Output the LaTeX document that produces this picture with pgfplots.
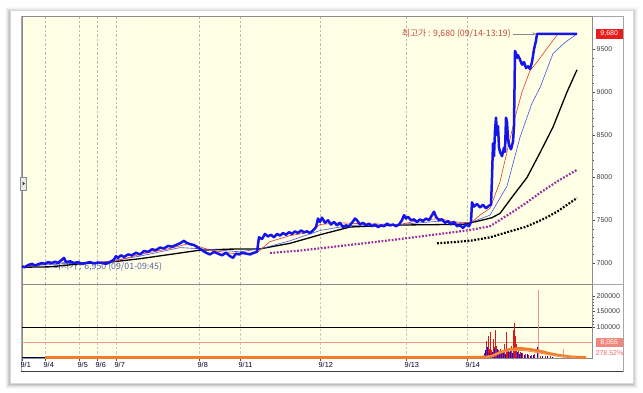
\documentclass[border=0pt]{standalone}
\usepackage{fontspec}
\setmainfont{Liberation Sans}
\newfontfamily\kr{Noto Sans CJK KR}
\usepackage{pgfplots}
\pgfplotsset{compat=1.18}
\usetikzlibrary{arrows.meta}
\definecolor{bgy}{RGB}{255,255,230}
\definecolor{pblue}{RGB}{20,20,235}
\definecolor{mared}{RGB}{225,60,40}
\definecolor{mablue}{RGB}{70,80,230}
\definecolor{mapurple}{RGB}{150,50,160}
\definecolor{volorange}{RGB}{240,125,45}
\definecolor{salmon}{RGB}{238,150,140}
\definecolor{hired}{RGB}{195,75,65}
\definecolor{lowblue}{RGB}{90,100,170}
\definecolor{boxred}{RGB}{232,30,30}
\definecolor{volred}{RGB}{215,25,25}
\begin{document}
\begin{tikzpicture}
\begin{scope}[x=1bp,y=-1bp]
\fill[white] (0,0) rectangle (643,392);
\foreach \i/\o in {5/0.025,4/0.035,3/0.05,2/0.07,1/0.09}{
  \fill[black,opacity=\o] (10-\i,10-\i+2) rectangle (633+\i,383+\i+1);}
\fill[white] (10,10) rectangle (633,383);
\draw[black!15] (10,10) rectangle (633,383);
\draw[black!35] (21,16) rectangle (623,371);
\draw[black!35] (21,284) -- (623,284);
\end{scope}

% ---------------- price panel ----------------
\begin{axis}[at={(22bp,-16bp)}, anchor=north west, scale only axis,
  width=570bp, height=268bp,
  xmin=22, xmax=592, ymin=6754, ymax=9889,
  axis background/.style={fill=bgy},
  axis line style={black!45},
  xtick={22,45,79,97,116,199,240,320,406,467}, xticklabels={},
  major x tick style={draw=none},
  xmajorgrids, x grid style={black!28, dash pattern=on 2.5bp off 2bp},
  ytick={7000,7500,8000,8500,9000,9500}, minor y tick num=4,
  ytick pos=right, yticklabel pos=right, tick align=outside,
  major tick length=3bp, minor tick length=1.5bp,
  y tick style={black!70}, minor y tick style={black!70},
  yticklabel style={font=\fontsize{7}{8}\selectfont, text=black!75, inner sep=1.5bp, /pgf/number format/fixed, /pgf/number format/1000 sep={}},
  /pgf/number format/assume math mode=true,
  clip=false]
\node[anchor=west, text=lowblue, font=\kr\fontsize{8.8}{9}\selectfont, inner sep=0pt]
  at (axis cs:53,6958) {최저가 : 6,950 (09/01-09:45)};
% black dotted MA
\addplot[black, line width=2.2bp, dash pattern=on 1.8bp off 1.6bp] coordinates {
(437,7230) (455,7245) (473,7265) (490,7300) (513,7380) (525,7420) (537,7480) (547,7535) (557,7600) (567,7680) (577,7760)};
% purple dotted MA
\addplot[mapurple, line width=2.2bp, dash pattern=on 1.8bp off 1.6bp] coordinates {
(270,7117) (300,7145) (330,7185) (360,7225) (400,7280) (440,7340) (470,7385) (490,7430) (513,7600) (527,7710) (540,7820) (558,7960) (577,8090)};
% black MA
\addplot[black, line width=1.3bp] coordinates {
(22,6950) (50,6955) (80,6990) (110,7010) (140,7050) (170,7100) (200,7150) (230,7162) (260,7165) (290,7230) (320,7330) (350,7421) (400,7444) (463,7452) (480,7495) (492,7530) (500,7580) (512,7770) (527,8000) (540,8290) (553,8590) (567,9000) (577,9260)};
% blue thin MA
\addplot[mablue, line width=0.6bp] coordinates {
(22,6960) (60,6990) (100,7005) (140,7080) (180,7180) (210,7160) (240,7130) (262,7170) (290,7260) (320,7380) (350,7440) (400,7450) (440,7490) (470,7470) (490,7560) (507,7900) (520,8470) (532,8870) (540,9050) (553,9450) (565,9580) (577,9680)};
% red thin MA
\addplot[mared, line width=0.6bp] coordinates {
(22,6960) (40,6980) (60,7010) (90,7005) (115,7020) (140,7100) (170,7170) (190,7230) (210,7150) (240,7100) (258,7130) (270,7250) (290,7320) (310,7360) (320,7450) (340,7470) (360,7460) (400,7450) (420,7500) (440,7520) (460,7460) (472,7480) (480,7560) (490,7640) (500,7950) (507,8300) (515,8700) (522,9000) (530,9250) (537,9350) (547,9510) (558,9680) (577,9680)};
% price
\addplot[pblue, line width=2.5bp, line join=round] coordinates {
(22,6960) (25,6950) (28,6975) (32,6990) (35,6970) (38,6985) (42,7000) (45,6990) (48,7010) (52,7000) (55,7015) (58,7000) (62,7040) (64,7060) (66,7010) (70,7020) (74,7000) (78,7010) (82,6990) (86,7000) (90,7010) (94,6995) (98,7005) (102,7000) (106,6990) (110,7010) (114,7040) (116,7080) (118,7060) (121,7090) (124,7070) (128,7100) (132,7090) (136,7120) (140,7100) (144,7140) (148,7130) (152,7160) (156,7150) (160,7180) (164,7170) (168,7200) (172,7190) (176,7210) (180,7230) (184,7260) (186,7240) (190,7220) (194,7210) (198,7180) (202,7150) (206,7120) (210,7100) (214,7130) (218,7110) (222,7090) (226,7120) (230,7080) (233,7060) (236,7110) (239,7100) (242,7120) (246,7110) (250,7100) (254,7120) (257,7130)
(259,7300) (262,7280) (265,7340) (268,7310) (271,7330) (274,7300) (277,7340) (280,7320) (283,7350) (286,7330) (289,7360) (292,7340) (295,7370) (298,7350) (301,7380) (304,7360) (307,7370) (310,7350) (313,7380) (316,7420) (318,7520) (320,7480) (322,7530) (325,7470) (328,7500) (331,7450) (334,7480) (337,7440) (340,7470) (343,7420) (346,7440) (349,7430) (352,7470) (355,7520) (357,7500) (360,7450) (363,7470) (366,7440) (369,7460) (372,7430) (375,7450) (378,7420) (381,7440) (384,7430) (387,7460) (390,7440) (393,7450) (396,7430) (399,7450) (402,7500) (404,7560) (406,7520) (408,7540) (411,7500) (414,7510) (417,7480) (420,7510) (423,7490) (426,7520) (429,7500) (432,7560) (434,7600) (436,7540) (439,7500) (442,7510) (445,7470) (448,7490) (451,7450) (454,7480) (457,7430) (460,7440) (463,7410) (466,7450) (469,7430) (471,7480) (472,7710) (474,7660) (477,7690) (480,7650) (483,7680) (486,7640) (489,7670) (491,7680)
(492,8000) (493,8400) (494,8250) (495,8550) (496,8700) (497,8500) (498,8600) (499,8350) (500,8300) (502,8250) (504,8350) (505,8300) (506,8700) (507,8650) (508,8450) (509,8380) (511,8330) (513,8420) (514,8600) (515,9480) (516,9450) (517,9400) (518,9430) (520,9380) (522,9320) (524,9350) (526,9280) (528,9300) (530,9270) (532,9350) (534,9500) (536,9600) (537,9680) (577,9680)};
\node[anchor=east, text=hired, font=\kr\fontsize{8.8}{9}\selectfont, inner sep=0pt]
  at (axis cs:511,9680) {최고가 : 9,680 (09/14-13:19)};
\draw[black!45, -{Stealth[length=3.5bp,width=3bp]}] (axis cs:513,9680) -- (axis cs:536,9680);
\node[anchor=west, fill=boxred, text=white, font=\fontsize{7}{8}\selectfont,
  inner sep=0pt, minimum width=27bp, minimum height=10bp] at (axis cs:592,9680) [xshift=3.5bp] {9,680};
\end{axis}

% ---------------- volume panel ----------------
\begin{axis}[at={(22bp,-284bp)}, anchor=north west, scale only axis,
  width=570bp, height=74bp,
  xmin=22, xmax=592, ymin=0, ymax=238700,
  axis background/.style={fill=bgy},
  axis line style={black!45},
  xtick={22,45,79,97,116,199,240,320,406,467},
  xticklabels={9/1,9/4,9/5,9/6,9/7,9/8,9/11,9/12,9/13,9/14},
  xtick pos=bottom,
  xticklabel style={anchor=north west, font=\fontsize{7.3}{8}\selectfont, text=black!85!blue, inner sep=0pt, xshift=-1.5bp, yshift=-1.5bp},
  xmajorgrids, x grid style={black!22, dash pattern=on 2.5bp off 2bp},
  ytick={100000,150000,200000}, minor y tick num=4,
  ytick pos=right, yticklabel pos=right, tick align=outside,
  major tick length=3bp, minor tick length=1.5bp,
  y tick style={black!70}, minor y tick style={black!70}, x tick style={black!70},
  yticklabel style={font=\fontsize{7}{8}\selectfont, text=black!75, inner sep=1.5bp, /pgf/number format/fixed, /pgf/number format/1000 sep={}},
  scaled y ticks=false,
  /pgf/number format/assume math mode=true,
  clip=false]
\draw[black, line width=0.6bp] (axis cs:22,100000) -- (axis cs:592,100000);
\draw[salmon, line width=0.9bp] (axis cs:22,51000) -- (axis cs:592,51000);
\addplot[ycomb, salmon, line width=0.9bp, mark=none] coordinates {
(237,6000) (478,8000) (538,220000) (563,30000)};
\addplot[ycomb, volred, line width=0.9bp, mark=none] coordinates {
(484,15000) (486,55000) (487,20000) (488,70000) (489,30000) (490,85000) (491,25000) (493,60000) (494,35000) (495,90000) (496,40000) (498,25000) (500,30000) (502,20000) (504,45000) (506,85000) (507,30000) (509,20000) (511,40000) (513,90000) (514,112000) (515,70000) (516,45000) (518,30000) (520,20000) (522,15000) (525,12000) (528,10000) (531,9000) (534,12000) (540,8000) (545,6000) (550,5000)};
\addplot[ycomb, blue, line width=0.9bp, mark=none] coordinates {
(485,25000) (487,35000) (489,15000) (492,20000) (494,28000) (497,30000) (499,15000) (501,20000) (503,18000) (505,12000) (508,22000) (510,26000) (512,15000) (517,20000) (519,12000) (521,15000) (524,10000) (527,14000) (530,8000) (533,10000) (537,35000) (542,6000) (547,5000) (552,4000)};
\addplot[black!70!blue, line width=1.5bp] coordinates {(22,1200) (45,1200)};
\addplot[volorange, line width=2.8bp] coordinates {
(45,1500) (200,1500) (300,1600) (400,1700) (470,2000) (485,3000) (492,6000) (500,18000) (510,28000) (520,31000) (530,28000) (540,22000) (550,14000) (560,8000) (570,4000) (580,2000) (586,1500)};
\addplot[volorange!80, line width=1bp] coordinates {
(486,2000) (495,12000) (505,22000) (515,25000) (525,24000) (535,19000) (548,11000) (560,5000) (575,2000)};
\node[anchor=west, fill=salmon!90!red, text=white, font=\fontsize{7}{8}\selectfont,
  inner sep=0pt, minimum width=27bp, minimum height=9bp] at (axis cs:592,51000) [xshift=3.5bp] {8,055};
\node[anchor=west, text=salmon!70!red, font=\fontsize{7}{8}\selectfont, inner sep=0pt]
  at (axis cs:592,16000) [xshift=3.5bp] {278.52\%};
\end{axis}

\begin{scope}[x=1bp,y=-1bp]
\draw[black!75, line width=0.8bp] (21,371) -- (623,371);
\fill[black!8] (20.5,177) rectangle (26.5,190);
\draw[black!45] (20.5,177) rectangle (26.5,190);
\fill[black!80] (22.6,181.5) -- (25,183.5) -- (22.6,185.5) -- cycle;
\end{scope}
\end{tikzpicture}
\end{document}
